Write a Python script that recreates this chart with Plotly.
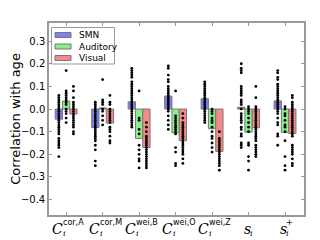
import plotly.graph_objects as go

# tick labels split into main letter, subscript and superscript parts
cat_main = ["C", "C", "C", "C", "C", "s", "s"]
cat_sub = ["i", "i", "i", "i", "i", "i", "i"]
cat_sup = ["cor,A", "cor,M", "wei,B", "wei,O", "wei,Z", "", "+"]

series_names = ["SMN", "Auditory", "Visual"]
smn_bars = [-0.045, -0.082, 0.032, 0.057, 0.046, 0.008, 0.036]
aud_bars = [0.035, 0.005, -0.130, -0.105, -0.087, -0.102, -0.103]
vis_bars = [-0.022, -0.062, -0.170, -0.140, -0.187, -0.083, -0.108]

smn_points = [
    [0.06, 0.05, 0.04, 0.03, 0.02, 0.01, 0.0, -0.01, -0.02, -0.03, -0.04, -0.05, -0.06, -0.07, -0.08, -0.09, -0.10, -0.11, -0.13, -0.14, -0.15, -0.16, -0.17, -0.21],
    [0.03, 0.02, 0.01, 0.0, -0.01, -0.02, -0.03, -0.04, -0.05, -0.06, -0.07, -0.08, -0.09, -0.10, -0.11, -0.12, -0.13, -0.14, -0.16, -0.18, -0.23, -0.25],
    [0.18, 0.17, 0.16, 0.15, 0.14, 0.12, 0.11, 0.10, 0.09, 0.08, 0.07, 0.06, 0.05, 0.04, 0.03, 0.02, 0.01, 0.0, -0.01, -0.02, -0.03, -0.04, -0.05, -0.06, -0.07, -0.08],
    [0.19, 0.18, 0.15, 0.13, 0.12, 0.10, 0.09, 0.08, 0.07, 0.06, 0.05, 0.04, 0.03, 0.02, 0.01, 0.0, -0.01, -0.03, -0.05, -0.07, -0.09],
    [0.12, 0.11, 0.10, 0.09, 0.08, 0.07, 0.06, 0.05, 0.04, 0.03, 0.02, 0.01, 0.0, -0.01, -0.02, -0.03, -0.04, -0.05, -0.06],
    [0.20, 0.18, 0.17, 0.16, 0.10, 0.09, 0.08, 0.07, 0.06, 0.04, 0.03, 0.02, 0.0, -0.02, -0.03, -0.04, -0.05, -0.06, -0.08, -0.09, -0.11, -0.12, -0.15, -0.16, -0.17],
    [0.17, 0.16, 0.14, 0.13, 0.11, 0.10, 0.09, 0.08, 0.07, 0.06, 0.05, 0.04, 0.03, 0.02, 0.01, 0.0, -0.01, -0.02, -0.04, -0.06, -0.07, -0.11, -0.12, -0.16],
]
aud_points = [
    [0.17, 0.08, 0.07, 0.06, 0.05, 0.04, 0.03, 0.02, 0.0, -0.01, -0.02, -0.04, -0.06],
    [0.13, 0.04, 0.03, 0.02, 0.0, -0.01, -0.03, -0.05, -0.07],
    [0.08, -0.04, -0.05, -0.09, -0.11, -0.16, -0.18, -0.20, -0.22, -0.23, -0.26],
    [0.08, -0.03, -0.04, -0.05, -0.06, -0.07, -0.08, -0.09, -0.10, -0.11, -0.17, -0.19, -0.24, -0.25],
    [0.0, -0.01, -0.02, -0.04, -0.05, -0.06, -0.08, -0.10, -0.12, -0.13, -0.15, -0.17, -0.19],
    [0.01, 0.0, -0.01, -0.02, -0.04, -0.06, -0.08, -0.10, -0.15, -0.16, -0.21, -0.23, -0.27],
    [0.01, 0.0, -0.02, -0.03, -0.05, -0.07, -0.08, -0.10, -0.14, -0.21, -0.25, -0.27],
]
vis_points = [
    [0.10, 0.08, 0.05, 0.03, 0.02, 0.01, 0.0, -0.01, -0.02, -0.03, -0.04, -0.05, -0.06, -0.07, -0.08, -0.10, -0.11],
    [0.06, 0.03, 0.02, 0.0, -0.01, -0.02, -0.03, -0.04, -0.05, -0.06, -0.08, -0.09, -0.10, -0.12, -0.14, -0.15],
    [-0.06, -0.08, -0.10, -0.12, -0.13, -0.14, -0.15, -0.16, -0.17, -0.18, -0.19, -0.20, -0.21, -0.22, -0.23, -0.24, -0.25, -0.26],
    [-0.02, -0.04, -0.06, -0.07, -0.08, -0.09, -0.10, -0.11, -0.12, -0.13, -0.14, -0.15, -0.16, -0.17, -0.18, -0.19, -0.20, -0.22, -0.24],
    [-0.10, -0.13, -0.14, -0.15, -0.16, -0.17, -0.18, -0.19, -0.20, -0.21, -0.22, -0.23, -0.24, -0.25, -0.27],
    [0.10, 0.05, 0.01, 0.0, -0.01, -0.02, -0.03, -0.04, -0.05, -0.06, -0.07, -0.08, -0.09, -0.10, -0.11, -0.12, -0.13, -0.14, -0.16, -0.17, -0.18, -0.19, -0.20, -0.21],
    [0.06, 0.05, 0.03, 0.02, 0.01, 0.0, -0.01, -0.02, -0.03, -0.04, -0.05, -0.06, -0.07, -0.08, -0.09, -0.10, -0.11, -0.12, -0.16, -0.17, -0.18, -0.19, -0.20, -0.22, -0.24, -0.25],
]

y_ticks = [-0.4, -0.3, -0.2, -0.1, 0.0, 0.1, 0.2, 0.3]

fills = ["#8080f2", "#88f088", "#f78888"]
offsets = [-0.2, 0.0, 0.2]
bar_width = 0.2

# page body has an 8px margin: size the figure so the plot lands where the reference has it
OFF = 8
W, H = 320 - OFF, 240 - OFF
SL, SR, ST, SB = 49, 304, 23, 215  # plot area edges in screen pixels
ML, MT = SL - OFF, ST - OFF
MR, MB = W - (SR - OFF), H - (SB - OFF)
PW, PH = SR - SL, SB - ST


def px_x(p):
    return (p - SL) / PW


def px_y(p):
    return (SB - p) / PH


fig = go.Figure()
idx = list(range(len(cat_main)))
for name, vals, fc, off in zip(series_names, [smn_bars, aud_bars, vis_bars], fills, offsets):
    fig.add_trace(go.Bar(
        x=[i + off for i in idx], y=vals, width=bar_width, name=name, showlegend=False,
        marker=dict(color=fc, line=dict(color="#777777", width=1)),
    ))
for pts, off in zip([smn_points, aud_points, vis_points], offsets):
    xs, ys = [], []
    for i, col in zip(idx, pts):
        xs += [i + off] * len(col)
        ys += col
    fig.add_trace(go.Scatter(
        x=xs, y=ys, mode="markers", showlegend=False,
        marker=dict(color="black", size=2.8, line=dict(width=0)),
    ))

# composite tick labels (letter with stacked sub/superscript)
annotations = []
for i, m, sb, sp in zip(idx, cat_main, cat_sub, cat_sup):
    main_w = 11 if m == "C" else 6
    sup_w = 3.4 * len(sp)
    total = main_w + max(sup_w, 3)
    left = -total / 2 - 1
    annotations.append(dict(x=i, xref="x", y=0, yref="paper", xanchor="left", yanchor="top",
                            xshift=left - 1, yshift=-4, showarrow=False,
                            text="<i>%s</i>" % m,
                            font=dict(family="DejaVu Serif", size=14, color="black")))
    annotations.append(dict(x=i, xref="x", y=0, yref="paper", xanchor="left", yanchor="top",
                            xshift=left + main_w - 1, yshift=-12, showarrow=False,
                            text="<i>%s</i>" % sb,
                            font=dict(family="DejaVu Serif", size=8, color="black")))
    if sp:
        annotations.append(dict(x=i, xref="x", y=0, yref="paper", xanchor="left", yanchor="top",
                                xshift=left + main_w - 1, yshift=-1, showarrow=False,
                                text=sp,
                                font=dict(family="DejaVu Sans", size=8, color="black")))

# legend drawn manually (matplotlib-style wide patches)
shapes = [dict(type="rect", xref="paper", yref="paper",
               x0=px_x(51.5), x1=px_x(114.5), y0=px_y(64), y1=px_y(27.5),
               line=dict(color="#999999", width=1), fillcolor="white", layer="above")]
row_y = [35, 46.5, 58]
for name, fc, ry in zip(series_names, fills, row_y):
    shapes.append(dict(type="rect", xref="paper", yref="paper",
                       x0=px_x(55), x1=px_x(71), y0=px_y(ry + 2.5), y1=px_y(ry - 2.5),
                       line=dict(color="#777777", width=1), fillcolor=fc, layer="above"))
    annotations.append(dict(x=px_x(77), y=px_y(ry), xref="paper", yref="paper",
                            xanchor="left", yanchor="middle", showarrow=False, text=name,
                            font=dict(family="DejaVu Sans", size=9, color="black")))

axis_common = dict(showline=True, linecolor="#999999", linewidth=1.5, mirror="ticks",
                   ticks="inside", ticklen=3, tickcolor="#999999", showgrid=False,
                   zeroline=False, automargin=False)
fig.update_layout(
    width=W, height=H,
    margin=dict(l=ML, r=MR, t=MT, b=MB, pad=0),
    plot_bgcolor="white", paper_bgcolor="white",
    barmode="overlay", showlegend=False,
    font=dict(family="DejaVu Sans", size=10, color="black"),
    xaxis=dict(range=[-0.47, 6.52], tickvals=idx, ticktext=[""] * len(idx), **axis_common),
    yaxis=dict(range=[-0.468, 0.38], tickvals=y_ticks, tickformat=".1f",
               title=dict(text="Correlation with age", font=dict(size=13), standoff=2),
               **axis_common),
    shapes=shapes, annotations=annotations,
)
fig.write_html("out.html")
